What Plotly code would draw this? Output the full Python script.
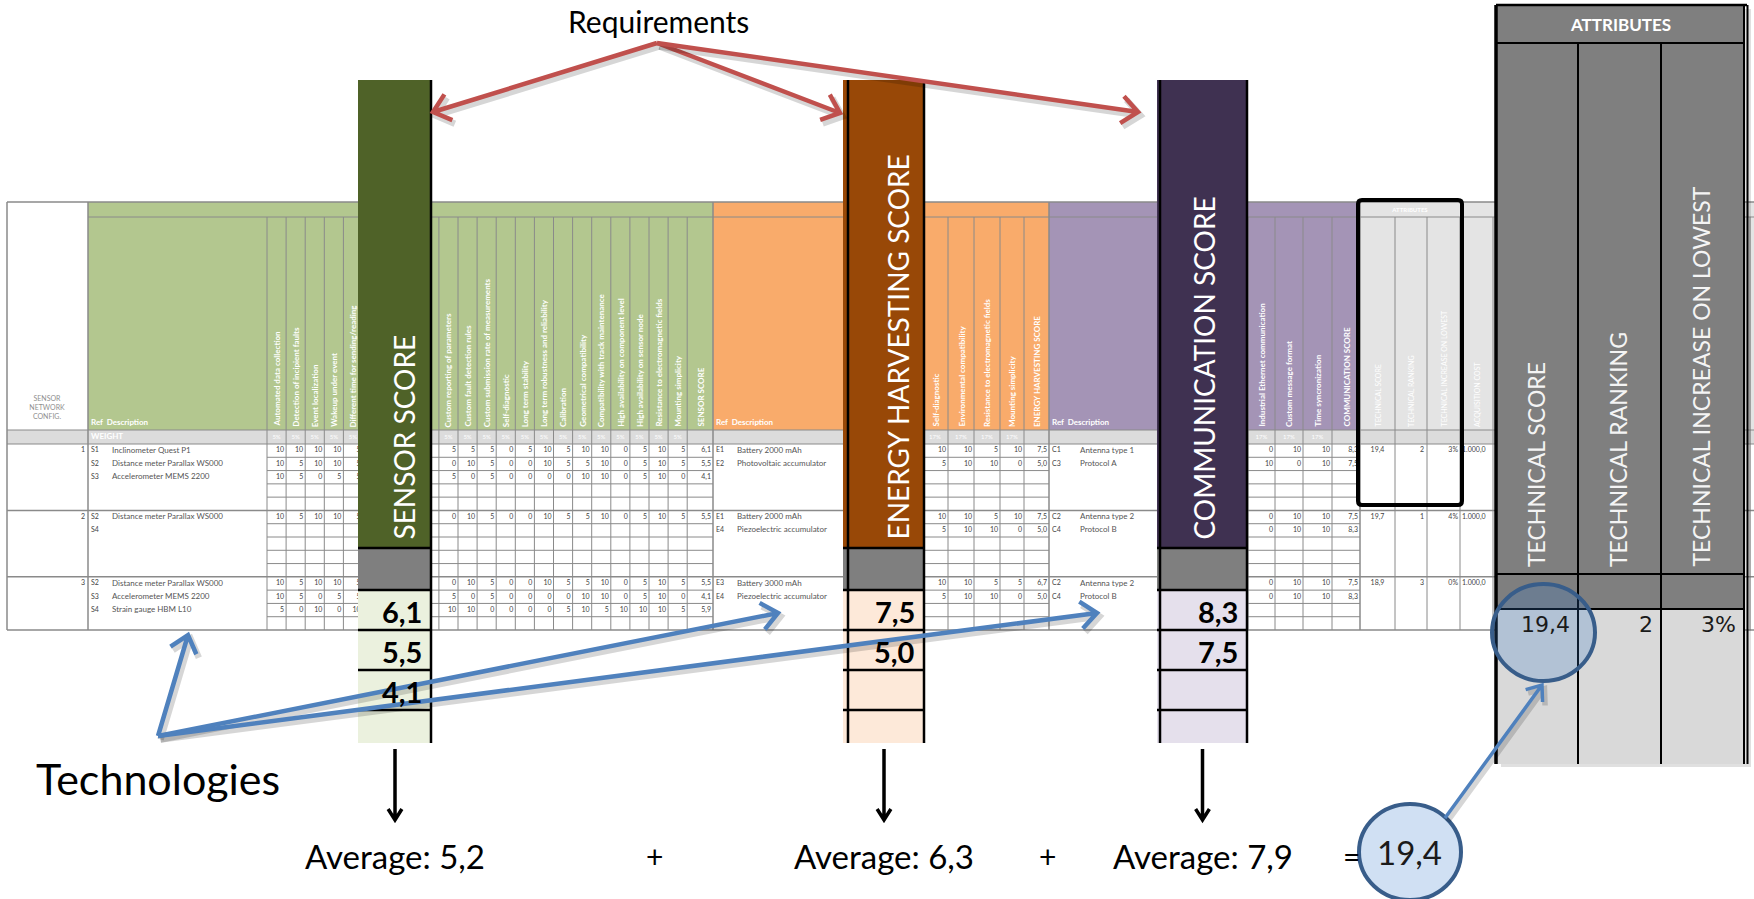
import math
from collections import defaultdict
from decimal import Decimal, ROUND_HALF_UP

import plotly.graph_objects as go

# ---------------------------------------------------------------- data
CONFIG_IDS = ["1", "2", "3"]

SENSOR_CRITERIA = [
    "Automated data collection", "Detection of incipient faults", "Event localization",
    "Wakeup under event", "Different time for sending/reading",
    "Custom reporting of parameters", "Custom fault detection rules",
    "Custom submission rate of measurements", "Self-diagnostic", "Long term stability",
    "Long term robustness and reliability", "Calibration", "Geometrical compatibility",
    "Compatibility with track maintenance", "High availability on component level",
    "High availability on sensor node", "Resistance to electromagnetic fields",
    "Mounting simplicity",
]
SENSOR_WEIGHT = "5%"
SENSOR_REFS = [["S1", "S2", "S3"], ["S2", "S4"], ["S2", "S3", "S4"]]
SENSOR_DESCS = [
    ["Inclinometer Quest P1", "Distance meter Parallax WS000", "Accelerometer MEMS 2200"],
    ["Distance meter Parallax WS000", ""],
    ["Distance meter Parallax WS000", "Accelerometer MEMS 2200", "Strain gauge HBM L10"],
]
SENSOR_VALUES = [
    [
        [10, 10, 10, 10, 5, 5, 5, 5, 0, 5, 10, 5, 10, 10, 0, 5, 10, 5],
        [10, 5, 10, 10, 5, 0, 10, 5, 0, 0, 10, 5, 5, 10, 0, 5, 10, 5],
        [10, 5, 0, 5, 5, 5, 0, 5, 0, 0, 0, 0, 10, 10, 0, 5, 10, 0],
    ],
    [
        [10, 5, 10, 10, 5, 0, 10, 5, 0, 0, 10, 5, 5, 10, 0, 5, 10, 5],
        None,
    ],
    [
        [10, 5, 10, 10, 5, 0, 10, 5, 0, 0, 10, 5, 5, 10, 0, 5, 10, 5],
        [10, 5, 0, 5, 5, 5, 0, 5, 0, 0, 0, 0, 10, 10, 0, 5, 10, 0],
        [5, 0, 10, 0, 10, 10, 10, 0, 0, 0, 0, 5, 10, 5, 10, 10, 10, 5],
    ],
]
SENSOR_SCORES = [[6.1, 5.5, 4.1], [5.5, None], [5.5, 4.1, 5.9]]

ENERGY_CRITERIA = ["Self-diagnostic", "Environmental compatibility",
                   "Resistance to electromagnetic fields", "Mounting simplicity"]
ENERGY_WEIGHT = "17%"
ENERGY_REFS = [["E1", "E2"], ["E1", "E4"], ["E3", "E4"]]
ENERGY_DESCS = [
    ["Battery 2000 mAh", "Photovoltaic accumulator"],
    ["Battery 2000 mAh", "Piezoelectric accumulator"],
    ["Battery 3000 mAh", "Piezoelectric accumulator"],
]
ENERGY_VALUES = [
    [[10, 10, 5, 10], [5, 10, 10, 0]],
    [[10, 10, 5, 10], [5, 10, 10, 0]],
    [[10, 10, 5, 5], [5, 10, 10, 0]],
]
ENERGY_SCORES = [[7.5, 5.0], [7.5, 5.0], [6.7, 5.0]]

COMM_CRITERIA = ["Industrial Ethernet communication", "Custom message format",
                 "Time syncronization"]
COMM_WEIGHT = "17%"
COMM_REFS = [["C1", "C3"], ["C2", "C4"], ["C2", "C4"]]
COMM_DESCS = [["Antenna type 1", "Protocol A"], ["Antenna type 2", "Protocol B"],
              ["Antenna type 2", "Protocol B"]]
COMM_VALUES = [
    [[0, 10, 10], [10, 0, 10]],
    [[0, 10, 10], [0, 10, 10]],
    [[0, 10, 10], [0, 10, 10]],
]
COMM_SCORES = [[8.3, 7.5], [7.5, 8.3], [7.5, 8.3]]

ATTRIBUTE_NAMES = ["TECHNICAL SCORE", "TECHNICAL RANKING",
                   "TECHNICAL INCREASE ON LOWEST", "ACQUISITION COST"]
ACQUISITION_COST = [1000.0, 1000.0, 1000.0]

SHOWN_CONFIG = 0  # configuration broken out in the score columns


# ------------------------------------------------------- derived figures
def dec(v):
    return Decimal(str(v))


def mean(vals):
    vs = [dec(v) for v in vals if v is not None]
    return sum(vs) / len(vs)


def round1(x):
    return x.quantize(Decimal("0.1"), rounding=ROUND_HALF_UP)


def comma(x):
    return f"{x:.1f}".replace(".", ",")


def money(x):
    return f"{x:,.1f}".replace(",", "#").replace(".", ",").replace("#", ".")


sensor_avg = [mean(s) for s in SENSOR_SCORES]
energy_avg = [mean(s) for s in ENERGY_SCORES]
comm_avg = [mean(s) for s in COMM_SCORES]
tech_score = [round1(a + b + c) for a, b, c in zip(sensor_avg, energy_avg, comm_avg)]
rank_order = sorted(range(len(tech_score)), key=lambda i: -tech_score[i])
tech_rank = [rank_order.index(i) + 1 for i in range(len(tech_score))]
lowest = min(tech_score)
tech_increase = [int(((t / lowest - 1) * 100).quantize(Decimal("1"), rounding=ROUND_HALF_UP))
                 for t in tech_score]

# ---------------------------------------------------------------- layout
W, H = 1754, 899
FONT = "Lato, 'Open Sans', sans-serif"
GRID = "#8a8a8a"
GREEN, ORANGE, PURPLE, LIGHT = "#B3C78F", "#F9AB6B", "#A494B6", "#E4E4E4"

X_L, X_R = 7, 1754
Y_TOP, Y_BAND, Y_HEAD, Y_WEIGHT, Y_BOT = 202, 217, 430, 444, 630
N_ROWS = 14
ROW_H = (Y_BOT - Y_WEIGHT) / N_ROWS
GROUP_FIRST = [0, 5, 10]

CONF_COL = (7, 88)
S_DESC = (88, 267)
S_SLOT0, S_SLOT_W, S_NSLOT = 267, 19.1, 22
S_SLOTS = [0, 1, 2, 3, 4] + list(range(9, 22))   # slots 5-8 sit behind the score column
S_SCORE = (S_SLOT0 + S_NSLOT * S_SLOT_W, 713)
E_DESC = (713, 922)
E_COLS = [922, 948, 974, 1000, 1024]
E_SCORE = (1024, 1049)
C_DESC = (1049, 1248)
C_COLS = [1248, 1275, 1303, 1332]
C_SCORE = (1332, 1360)
A_COLS = [1360, 1395, 1427, 1460, 1493, 1540, 1600, 1660, 1720, 1750]

shapes = []
ann = []
texts = defaultdict(lambda: ([], [], []))


def rect(x0, y0, x1, y1, fill, line=None, lw=0, layer="below"):
    shapes.append(dict(type="rect", xref="x", yref="y", x0=x0, y0=y0, x1=x1, y1=y1,
                       fillcolor=fill, layer=layer,
                       line=dict(width=lw, color=line or "rgba(0,0,0,0)")))


def seg(x0, y0, x1, y1, color=GRID, lw=1, layer="below"):
    shapes.append(dict(type="line", xref="x", yref="y", x0=x0, y0=y0, x1=x1, y1=y1,
                       layer=layer, line=dict(width=lw, color=color)))


def path(d, color, lw, layer="above"):
    shapes.append(dict(type="path", xref="x", yref="y", path=d, layer=layer,
                       line=dict(width=lw, color=color)))


def put(x, y, s, size=7, color="#444444", pos="middle center", bold=False):
    xs, ys, ss = texts[(size, color, pos, bold)]
    xs.append(x)
    ys.append(y)
    ss.append(s)


def note(x, y, s, size, color="black", xanchor="center", yanchor="middle", angle=0,
         bold=False, family=FONT):
    ann.append(dict(x=x, y=y, xref="x", yref="y", text=s, showarrow=False,
                    xanchor=xanchor, yanchor=yanchor, textangle=angle, borderpad=0,
                    font=dict(size=size, color=color, family=family,
                              weight="bold" if bold else "normal")))


def arrow(x0, y0, x1, y1, color, lw, head=18, spread=40, shadow=True):
    ang = math.atan2(y1 - y0, x1 - x0)
    wings = []
    for s in (1, -1):
        a = ang + math.pi + s * math.radians(spread)
        wings.append((x1 + head * math.cos(a), y1 + head * math.sin(a)))

    def build(dx, dy):
        return (f"M{x0 + dx},{y0 + dy} L{x1 + dx},{y1 + dy} "
                f"M{wings[0][0] + dx},{wings[0][1] + dy} L{x1 + dx},{y1 + dy} "
                f"L{wings[1][0] + dx},{wings[1][1] + dy}")
    if shadow:
        path(build(2.5, 3.5), "rgba(0,0,0,0.16)", lw + 2)
    path(build(0, 0), color, lw)


def row_top(i):
    return Y_WEIGHT + i * ROW_H


def row_mid(g, r):
    return row_top(GROUP_FIRST[g] + r) + ROW_H / 2


def slot_x(k):
    return S_SLOT0 + k * S_SLOT_W


# ------------------------------------------------------ spreadsheet body
rect(X_L, Y_TOP, X_R, Y_BOT, "white")
rect(CONF_COL[0], Y_TOP, CONF_COL[1], Y_HEAD, "white")
rect(S_DESC[0], Y_TOP, S_SCORE[1], Y_HEAD, GREEN)
rect(E_DESC[0], Y_TOP, E_SCORE[1], Y_HEAD, ORANGE)
rect(C_DESC[0], Y_TOP, C_SCORE[1], Y_HEAD, PURPLE)
rect(A_COLS[0], Y_TOP, X_R, Y_HEAD, LIGHT)
rect(X_L, Y_HEAD, X_R, Y_WEIGHT, "#DCDCDC")

# horizontal rules
seg(X_L, Y_TOP, X_R, Y_TOP, lw=1.5)
seg(CONF_COL[1], Y_BAND, X_R, Y_BAND)
seg(X_L, Y_HEAD, X_R, Y_HEAD)
seg(X_L, Y_WEIGHT, X_R, Y_WEIGHT)
for g in GROUP_FIRST[1:]:
    seg(X_L, row_top(g), X_R, row_top(g), lw=1.5)
seg(X_L, Y_BOT, X_R, Y_BOT, lw=1.5)
for i in range(1, N_ROWS):
    if i in GROUP_FIRST:
        continue
    y = row_top(i)
    for a, b in ((S_DESC[1], S_SCORE[1]), (E_COLS[0], E_SCORE[1]), (C_COLS[0], C_SCORE[1])):
        seg(a, y, b, y)

# vertical rules
for x in (X_L, CONF_COL[1], S_SCORE[1], E_SCORE[1], C_SCORE[1]):
    seg(x, Y_TOP, x, Y_BOT, lw=1.5)
inner = [S_DESC[1]] + [slot_x(k) for k in range(1, S_NSLOT)] + [S_SCORE[0]]
inner += E_COLS + C_COLS + A_COLS[1:]
for x in inner:
    seg(x, Y_BAND, x, Y_BOT)

# header captions
put(47, 408, "SENSOR<br>NETWORK<br>CONFIG.", size=7, color="#8f8f8f")
for x0 in (S_DESC[0], E_DESC[0], C_DESC[0]):
    put(x0 + 3, 423, "Ref  Description", size=8, color="white", pos="middle right", bold=True)
put(S_DESC[0] + 3, 437, "WEIGHT", size=8, color="white", pos="middle right", bold=True)
put((A_COLS[0] + A_COLS[3]) / 2, 210, "ATTRIBUTES", size=6, color="white", bold=True)

for name, k in zip(SENSOR_CRITERIA, S_SLOTS):
    cx = slot_x(k) + S_SLOT_W / 2
    note(cx, 428, name, 8, "white", yanchor="bottom", angle=-90, bold=True)
    put(cx, 437, SENSOR_WEIGHT, size=6, color="white")
note(sum(S_SCORE) / 2, 428, "SENSOR SCORE", 8, "white", yanchor="bottom", angle=-90, bold=True)

for j, name in enumerate(ENERGY_CRITERIA):
    cx = (E_COLS[j] + E_COLS[j + 1]) / 2
    note(cx, 428, name, 8, "white", yanchor="bottom", angle=-90, bold=True)
    put(cx, 437, ENERGY_WEIGHT, size=6, color="white")
note(sum(E_SCORE) / 2, 428, "ENERGY HARVESTING SCORE", 8, "white", yanchor="bottom",
     angle=-90, bold=True)

for j, name in enumerate(COMM_CRITERIA):
    cx = (C_COLS[j] + C_COLS[j + 1]) / 2
    note(cx, 428, name, 8, "white", yanchor="bottom", angle=-90, bold=True)
    put(cx, 437, COMM_WEIGHT, size=6, color="white")
note(sum(C_SCORE) / 2, 428, "COMMUNICATION SCORE", 8, "white", yanchor="bottom",
     angle=-90, bold=True)

for j, name in enumerate(ATTRIBUTE_NAMES):
    note((A_COLS[j] + A_COLS[j + 1]) / 2, 428, name, 7, "white", yanchor="bottom",
         angle=-90)

# table rows
for g, cid in enumerate(CONFIG_IDS):
    put(CONF_COL[1] - 3, row_mid(g, 0), cid, size=7, pos="middle left")

    for r, (ref, desc) in enumerate(zip(SENSOR_REFS[g], SENSOR_DESCS[g])):
        y = row_mid(g, r)
        put(S_DESC[0] + 3, y, ref, size=7, pos="middle right")
        if desc:
            put(S_DESC[0] + 24, y, desc, size=8, color="#555555", pos="middle right")
        vals = SENSOR_VALUES[g][r]
        if vals is not None:
            for v, k in zip(vals, S_SLOTS):
                put(slot_x(k + 1) - 2, y, str(v), size=7, pos="middle left")
        if SENSOR_SCORES[g][r] is not None:
            put(S_SCORE[1] - 2, y, comma(SENSOR_SCORES[g][r]), size=7, pos="middle left")

    for r, (ref, desc) in enumerate(zip(ENERGY_REFS[g], ENERGY_DESCS[g])):
        y = row_mid(g, r)
        put(E_DESC[0] + 3, y, ref, size=7, pos="middle right")
        put(E_DESC[0] + 24, y, desc, size=8, color="#555555", pos="middle right")
        for j, v in enumerate(ENERGY_VALUES[g][r]):
            put(E_COLS[j + 1] - 2, y, str(v), size=7, pos="middle left")
        put(E_SCORE[1] - 2, y, comma(ENERGY_SCORES[g][r]), size=7, pos="middle left")

    for r, (ref, desc) in enumerate(zip(COMM_REFS[g], COMM_DESCS[g])):
        y = row_mid(g, r)
        put(C_DESC[0] + 3, y, ref, size=7, pos="middle right")
        put(C_DESC[0] + 31, y, desc, size=8, color="#555555", pos="middle right")
        for j, v in enumerate(COMM_VALUES[g][r]):
            put(C_COLS[j + 1] - 2, y, str(v), size=7, pos="middle left")
        put(C_SCORE[1] - 2, y, comma(COMM_SCORES[g][r]), size=7, pos="middle left")

    y = row_mid(g, 0)
    put((A_COLS[0] + A_COLS[1]) / 2, y, comma(tech_score[g]), size=7)
    put(A_COLS[2] - 3, y, str(tech_rank[g]), size=7, pos="middle left")
    put(A_COLS[3] - 2, y, f"{tech_increase[g]}%", size=7, pos="middle left")
    put(A_COLS[3] + 2, y, money(ACQUISITION_COST[g]), size=7, pos="middle right")

# ------------------------------------------------- score columns (overlay)
BAR_TOP, BAR_COLOR_BOT, BAR_GRAY_BOT = 80, 548, 590
CELL_EDGES = [590, 630, 670, 710, 743]
BARS = [
    # x0, x1, bar colour, cell colour, title, title x, black edges, scores, average
    (358, 432, "#4F6228", "#EBF1DE", "SENSOR SCORE", 403, [431],
     SENSOR_SCORES[SHOWN_CONFIG], sensor_avg[SHOWN_CONFIG]),
    (843, 925, "#984807", "#FDE9D9", "ENERGY HARVESTING SCORE", 897, [848, 924],
     ENERGY_SCORES[SHOWN_CONFIG], energy_avg[SHOWN_CONFIG]),
    (1157, 1248, "#3F3151", "#E5E0EC", "COMMUNICATION SCORE", 1203, [1160, 1247],
     COMM_SCORES[SHOWN_CONFIG], comm_avg[SHOWN_CONFIG]),
]
for x0, x1, col, cell, title, tx, edges, scores, avg in BARS:
    rect(x0, BAR_TOP, x1, BAR_COLOR_BOT, col, layer="above")
    rect(x0, BAR_COLOR_BOT, x1, BAR_GRAY_BOT, "#7F7F7F", layer="above")
    rect(x0, CELL_EDGES[0], x1, CELL_EDGES[-1], cell, layer="above")
    for y in [BAR_COLOR_BOT] + CELL_EDGES[:-1]:
        seg(x0, y, x1, y, "black", 2.5, layer="above")
    for ex in edges:
        seg(ex, BAR_TOP, ex, CELL_EDGES[-1], "black", 2.5, layer="above")
    note(tx, 541, title, 28, "white", yanchor="bottom", angle=-90)
    for i, v in enumerate(scores):
        if v is not None:
            note(x1 - 9, (CELL_EDGES[i] + CELL_EDGES[i + 1]) / 2 + 1, comma(v), 29,
                 "black", xanchor="right", bold=True)
    cx = (x0 + x1) / 2
    arrow(cx, 749, cx, 820, "black", 3.5, head=13, spread=32, shadow=False)
    note(cx, 856, f"Average: {comma(round1(avg))}", 33, "black")

note(654, 856, "+", 30, "black")
note(1047, 856, "+", 30, "black")
note(1351, 856, "=", 30, "black")

# framed technical block of the table
shapes.append(dict(type="path", xref="x", yref="y", layer="above",
                   path="M1362,200 L1458,200 Q1462,200 1462,204 L1462,501 Q1462,505 1458,505 "
                        "L1362,505 Q1358,505 1358,501 L1358,204 Q1358,200 1362,200 Z",
                   line=dict(width=4, color="black")))

# --------------------------------------------------- attributes panel
PX = [1497, 1578, 1661, 1744]
P_TOP, P_TITLE, P_HEAD, P_BAND, P_BOT = 5, 43, 574, 609, 764
rect(PX[0] + 4, P_TOP + 4, PX[-1] + 7, P_BOT + 3, "rgba(0,0,0,0.12)", layer="above")
rect(PX[0], P_TOP, PX[-1], P_BAND, "#7F7F7F", layer="above")
rect(PX[0], P_BAND, PX[-1], P_BOT, "#D9D9D9", layer="above")
seg(PX[0] - 1, P_TOP, PX[-1] + 3, P_TOP, "black", 2.5, layer="above")
seg(PX[0], P_TITLE, PX[-1], P_TITLE, "black", 2, layer="above")
seg(PX[0], P_HEAD, PX[-1], P_HEAD, "black", 2, layer="above")
seg(PX[0], P_BAND, PX[-1], P_BAND, "black", 2, layer="above")
seg(PX[0] - 1, P_TOP, PX[0] - 1, P_BOT, "black", 3.5, layer="above")
seg(PX[-1], P_TOP, PX[-1], P_BOT, "black", 2, layer="above")
seg(PX[-1] + 3.5, P_TOP, PX[-1] + 3.5, P_BOT, "black", 2, layer="above")
for x in PX[1:-1]:
    seg(x, P_TITLE, x, P_BOT, "black", 2, layer="above")
note((PX[0] + PX[-1]) / 2, 24, "ATTRIBUTES", 17, "white", bold=True)
for j, name in enumerate(ATTRIBUTE_NAMES[:3]):
    note((PX[j] + PX[j + 1]) / 2 - 2, 568, name, 23, "#F4F4F4", yanchor="bottom", angle=-90)
panel_vals = [comma(tech_score[SHOWN_CONFIG]), str(tech_rank[SHOWN_CONFIG]),
              f"{tech_increase[SHOWN_CONFIG]}%"]
for j, s in enumerate(panel_vals):
    note(PX[j + 1] - 7, 624, s, 22, "#1a1a1a", xanchor="right", family="DejaVu Sans")

# highlight circles and connecting arrow
CIRCLE_FILL, CIRCLE_LINE = "rgba(52,119,204,0.23)", "#385D8A"
shapes.append(dict(type="circle", xref="x", yref="y", x0=1492, y0=584, x1=1595, y1=681,
                   fillcolor=CIRCLE_FILL, line=dict(width=4, color=CIRCLE_LINE), layer="above"))
shapes.append(dict(type="circle", xref="x", yref="y", x0=1359, y0=804, x1=1461, y1=900,
                   fillcolor=CIRCLE_FILL, line=dict(width=4, color=CIRCLE_LINE), layer="above"))
arrow(1445, 818, 1542, 685, "#4F81BD", 3.5, head=17, spread=38)
note(1409, 852, comma(tech_score[SHOWN_CONFIG]), 33, "#1a1a1a")

# ------------------------------------------------ callouts
RED, BLUE = "#C0504D", "#4F81BD"
for tip in ((433, 112), (840, 113), (1138, 112)):
    arrow(657, 43, tip[0], tip[1], RED, 4.5, head=21, spread=40)
for tip in ((188, 635), (778, 613), (1097, 613)):
    arrow(158, 736, tip[0], tip[1], BLUE, 4.5, head=21, spread=40)

note(658, 2, "Requirements", 30, "black", yanchor="top")
note(158, 778, "Technologies", 43, "black")

# ------------------------------------------------------------- figure
fig = go.Figure()
for (size, color, pos, bold), (xs, ys, ss) in texts.items():
    fig.add_trace(go.Scatter(
        x=xs, y=ys, text=ss, mode="text", textposition=pos, hoverinfo="skip",
        showlegend=False,
        textfont=dict(size=size, color=color, family=FONT, weight="bold" if bold else "normal"),
    ))

fig.update_layout(
    width=W, height=H, margin=dict(l=0, r=0, t=0, b=0),
    paper_bgcolor="white", plot_bgcolor="white", showlegend=False,
    xaxis=dict(range=[0, W], visible=False, fixedrange=True),
    yaxis=dict(range=[H, 0], visible=False, fixedrange=True),
    shapes=shapes, annotations=ann,
)
fig.write_html("out.html")
